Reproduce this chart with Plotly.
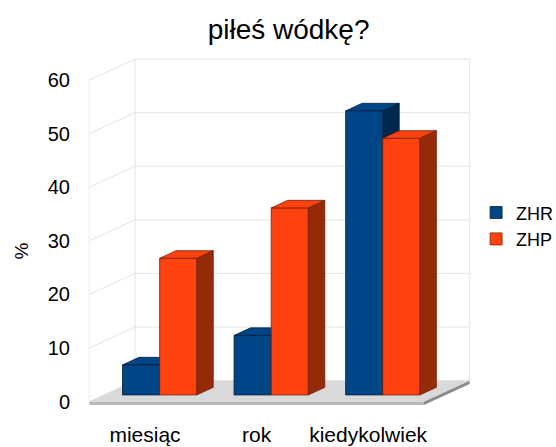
import plotly.graph_objects as go

categories = ["miesiąc", "rok", "kiedykolwiek"]
zhr = [5.6, 11.1, 53.0]
zhp = [25.5, 34.9, 47.9]
y_ticks = [0, 10, 20, 30, 40, 50, 60]

# oblique projection of the depth axis, expressed in axis units
DX, DY = 0.41, 3.92
F0, F1 = 0.32, 0.68      # front / back depth of the bar slab
W = 0.333                # bar width
X0, X1 = -0.5, 2.5       # floor extent along the category axis
VMAX = 60
SLAB = 0.62              # floor thickness

FONT = "Liberation Sans, Arial, sans-serif"

series = [
    dict(name="ZHR", values=zhr, shift=-W, front="#004586", top="#004586",
         side="#00284f", edge="#00203f"),
    dict(name="ZHP", values=zhp, shift=0.0, front="#ff420e", top="#ff420e",
         side="#952a08", edge="#7a2106"),
]


def proj(x, v, d):
    return x + d * DX, v + d * DY


def path(pts):
    return "M " + " L ".join(f"{x:.4f},{y:.4f}" for x, y in pts) + " Z"


def poly(pts, fill, line="rgba(0,0,0,0)", width=0, layer="below"):
    return dict(type="path", xref="x", yref="y", path=path(pts),
                fillcolor=fill, line=dict(color=line, width=width), layer=layer)


def seg(p, q, color, width=1, layer="below"):
    return dict(type="line", xref="x", yref="y", x0=p[0], y0=p[1],
                x1=q[0], y1=q[1], line=dict(color=color, width=width),
                layer=layer)


shapes = []

# walls
shapes.append(poly([proj(X0, 0, 0), proj(X0, VMAX, 0), proj(X0, VMAX, 1),
                    proj(X0, 0, 1)], "white"))
shapes.append(poly([proj(X0, 0, 1), proj(X1, 0, 1), proj(X1, VMAX, 1),
                    proj(X0, VMAX, 1)], "white"))
grid = "#e4e4e4"
for v in y_ticks:
    shapes.append(seg(proj(X0, v, 0), proj(X0, v, 1), grid))
    shapes.append(seg(proj(X0, v, 1), proj(X1, v, 1), grid))
shapes.append(seg(proj(X0, 0, 0), proj(X0, VMAX, 0), "#ececec"))
shapes.append(seg(proj(X0, 0, 1), proj(X0, VMAX, 1), grid))
shapes.append(seg(proj(X1, 0, 1), proj(X1, VMAX, 1), grid))

# floor slab
shapes.append(poly([proj(X0, 0, 0), proj(X1, 0, 0), proj(X1, 0, 1),
                    proj(X0, 0, 1)], "#d9d9d9"))
shapes.append(poly([proj(X0, 0, 0), proj(X1, 0, 0), proj(X1, -SLAB, 0),
                    proj(X0, -SLAB, 0)], "#b9b9b9"))
shapes.append(poly([proj(X1, 0, 0), proj(X1, 0, 1), proj(X1, -SLAB, 1),
                    proj(X1, -SLAB, 0)], "#8a8a8a"))

fig = go.Figure()

for s in series:
    layer = "below" if s["name"] == "ZHR" else "above"
    xs = []
    for i, val in enumerate(s["values"]):
        xl = i + s["shift"]
        xr = xl + W
        xs.append(xl + W / 2 + F0 * DX)
        # top face
        shapes.append(poly([proj(xl, val, F0), proj(xr, val, F0),
                            proj(xr, val, F1), proj(xl, val, F1)],
                           s["top"], s["edge"], 0.8, layer))
        # right side face
        shapes.append(poly([proj(xr, 0, F0), proj(xr, val, F0),
                            proj(xr, val, F1), proj(xr, 0, F1)],
                           s["side"], s["edge"], 0.8, layer))
    # front faces
    fig.add_trace(go.Bar(
        name=s["name"], x=xs, y=s["values"], base=F0 * DY, width=W,
        marker=dict(color=s["front"], line=dict(color=s["edge"], width=0.8)),
        hoverinfo="skip",
    ))

fig.add_annotation(text="%", textangle=-90, xref="paper", yref="paper",
                   x=-0.1697, y=0.4444, xanchor="center", yanchor="middle",
                   showarrow=False,
                   font=dict(family=FONT, size=19, color="#000000"))

fig.update_layout(
    width=556, height=447,
    margin=dict(l=87, r=83, t=56, b=40, autoexpand=False),
    paper_bgcolor="white", plot_bgcolor="white",
    barmode="overlay",
    shapes=shapes,
    font=dict(family=FONT, color="#000000"),
    title=dict(text="piłeś wódkę?", x=0.519, xref="container", xanchor="center",
               y=1 - 29 / 447, yref="container", yanchor="middle",
               font=dict(family=FONT, size=28, color="#000000")),
    legend=dict(x=1.008, xanchor="left", y=0.606, yanchor="top",
                font=dict(family=FONT, size=18, color="#000000"),
                bgcolor="rgba(0,0,0,0)", traceorder="normal"),
    xaxis=dict(range=[-0.52, 2.94], tickvals=[0, 1, 2], ticktext=categories,
               showgrid=False, zeroline=False, showline=False, ticks="",
               tickfont=dict(family=FONT, size=21, color="#000000"),
               ticklabelstandoff=13, fixedrange=True),
    yaxis=dict(range=[-1, 64.5], tickvals=y_ticks, showgrid=False,
               zeroline=False, showline=False, ticks="",
               tickfont=dict(family=FONT, size=20, color="#000000"),
               ticklabelstandoff=16, fixedrange=True),
)

fig.write_html("out.html")
